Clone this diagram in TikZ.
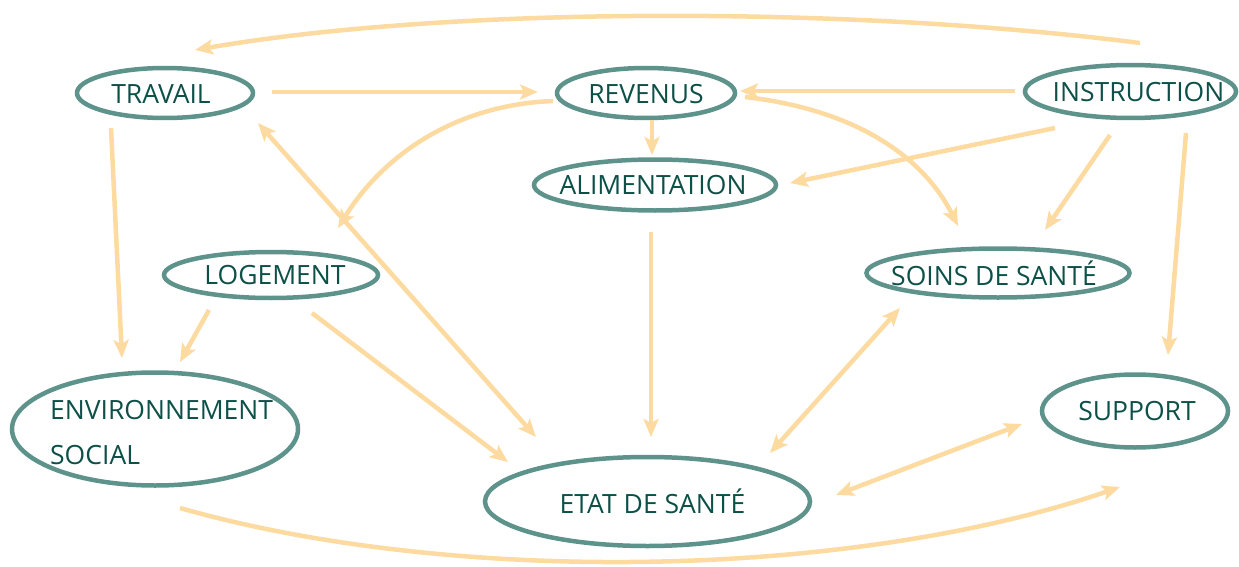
\documentclass[tikz,border=0pt]{standalone}
\usepackage{fontspec}
\setmainfont{Open Sans}
\usetikzlibrary{arrows.meta,calc,shapes.geometric}
\definecolor{arr}{RGB}{252,218,160}
\definecolor{ell}{RGB}{94,147,139}
\definecolor{txt}{RGB}{12,80,72}
\begin{document}
\begin{tikzpicture}[x=1pt,y=-1pt,
  bub/.style={ellipse, draw=ell, line width=4.5pt, inner sep=0pt, outer sep=0pt},
  lab/.style={text=txt, font=\fontsize{26.5}{45}\selectfont, inner sep=0pt},
  tip/.tip={Stealth[length=18pt,width=15pt,inset=4pt]},
  con/.style={draw=arr, line width=4.5pt, -tip},
  bi/.style={draw=arr, line width=4.5pt, tip-tip}]
\useasboundingbox (0,0) rectangle (1239,567);
% nodes
\node[bub, minimum width=176pt, minimum height=50pt, label={[lab,xshift=-4pt,yshift=-1pt]center:TRAVAIL}] (trav) at (165,93) {};
\node[bub, minimum width=178pt, minimum height=50pt, label={[lab,yshift=-1pt]center:REVENUS}] (rev) at (646,93) {};
\node[bub, minimum width=211pt, minimum height=53pt, label={[lab,xshift=8pt,yshift=-1pt]center:INSTRUCTION}] (inst) at (1130.5,91.5) {};
\node[bub, minimum width=242pt, minimum height=51pt, label={[lab,xshift=-2pt]center:ALIMENTATION}] (alim) at (655,185) {};
\node[bub, minimum width=214pt, minimum height=46pt, label={[lab,xshift=4pt]center:LOGEMENT}] (loge) at (271,275) {};
\node[bub, minimum width=263pt, minimum height=49pt, label={[lab,xshift=-4pt]center:SOINS DE SANTÉ}] (soins) at (998,273) {};
\node[bub, minimum width=286pt, minimum height=113pt] (env) at (155,429) {};
\node[lab, align=left, anchor=west] (envtxt) at ($(env)+(-105,4)$) {ENVIRONNEMENT\\SOCIAL};
\node[bub, minimum width=186pt, minimum height=73pt, label={[lab,xshift=2pt]center:SUPPORT}] (supp) at (1135,411) {};
\node[bub, minimum width=325pt, minimum height=89pt, label={[lab,xshift=5pt]center:ETAT DE SANTÉ}] (etat) at (647.5,501.5) {};
% connectors
\draw[con] ($(inst)+(9.5,-48.5)$) .. controls (850,6) and (450,6) .. ($(trav)+(30,-43)$);
\draw[con] ($(trav)+(107,-1)$) -- ($(rev)+(-108,-1)$);
\draw[con] ($(inst)+(-115.5,-0.5)$) -- ($(rev)+(94,-2)$);
\draw[con] ($(rev)+(6,27)$) -- ($(alim)+(-3,-30)$);
\draw[con] ($(rev)+(-93,8)$) .. controls (450,105) and (380,160) .. ($(loge)+(67,-47)$);
\draw[con] ($(rev)+(99,4)$) .. controls (860,110) and (925,160) .. ($(soins)+(-40,-47)$);
\draw[con] ($(inst)+(-75.5,36.5)$) -- ($(alim)+(135,-2)$);
\draw[con] ($(inst)+(-20.5,43.5)$) -- ($(soins)+(47,-43)$);
\draw[con] ($(inst)+(55.5,41.5)$) -- ($(supp)+(33,-56)$);
\draw[con] ($(trav)+(-54,35)$) -- ($(env)+(-33,-71)$);
\draw[con] ($(loge)+(-62,35)$) -- ($(env)+(25,-67)$);
\draw[bi] ($(trav)+(93,30)$) -- ($(etat)+(-111.5,-64.5)$);
\draw[con] ($(loge)+(41,38)$) -- ($(etat)+(-139.5,-39.5)$);
\draw[con] ($(alim)+(-4,47)$) -- ($(etat)+(3.5,-64.5)$);
\draw[bi] ($(soins)+(-98,35)$) -- ($(etat)+(122.5,-48.5)$);
\draw[bi] ($(supp)+(-113,13)$) -- ($(etat)+(188.5,-6.5)$);
\draw[con] ($(env)+(25,79)$) .. controls (450,585) and (850,580) .. ($(supp)+(-15,76)$);
\end{tikzpicture}
\end{document}
